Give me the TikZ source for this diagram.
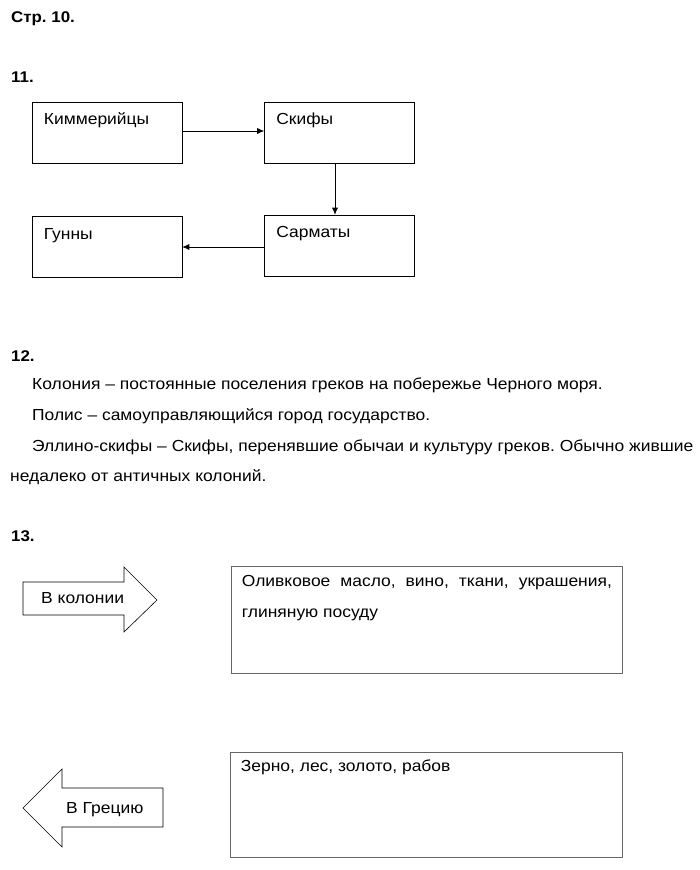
\documentclass[tikz,border=0pt]{standalone}
\usepackage{fontspec}
\setmainfont{Liberation Sans}[FakeStretch=1.09]
\usepackage{tikz}
\usetikzlibrary{
  arrows.meta,
  positioning,
  calc
}
\tikzset{
  chainbox/.style={
    draw, line width=0.6pt, minimum width=150pt, minimum height=61pt, inner sep=0pt
  },
  answerbox/.style={
    draw=black!60, line width=0.6pt, inner sep=0pt
  },
  boxtext/.style={anchor=base west, inner sep=0pt, font=\fontsize{16}{19}\selectfont},
  bodytext/.style={anchor=west, inner sep=0pt, font=\fontsize{16}{19}\selectfont},
  heading/.style={anchor=base west, inner sep=0pt, font=\fontsize{15.5}{18}\selectfont\bfseries},
  chainarrow/.style={-{Latex[length=7pt, width=6pt]}, line width=0.7pt},
  blockarrow/.style={draw, line width=0.6pt, fill=white, line join=miter}
}
\frenchspacing

\begin{document}
\begin{tikzpicture}[x=1pt, y=-1pt]
  \useasboundingbox (0,0) rectangle (700,870);

  % headings
  \node[heading] (page) at (11,22) {Стр. 10.};
  \node[heading] (n11) at (11,82) {11.};
  \node[heading] (n12) at (11,361) {12.};
  \node[heading] (n13) at (11,541) {13.};

  % 11: chain of peoples
  \node[chainbox] (kimm) at (107,133) {};
  \node[chainbox] (skif) at (339.5,133) {};
  \node[chainbox] (sarm) at (339.5,245.5) {};
  \node[chainbox] (gunn) at (107,247) {};
  \node[boxtext] (kimmtxt) at ($(kimm.north west)+(12,22)$) {Киммерийцы};
  \node[boxtext] (skiftxt) at ($(skif.north west)+(12,22)$) {Скифы};
  \node[boxtext] (sarmtxt) at ($(sarm.north west)+(12,23)$) {Сарматы};
  \node[boxtext] (gunntxt) at ($(gunn.north west)+(12,23)$) {Гунны};
  \draw[chainarrow] ([yshift=2pt]kimm.east) -- ([yshift=2pt]skif.west);
  \draw[chainarrow] ([xshift=-4.5pt]skif.south) -- ([xshift=-4.5pt]sarm.north);
  \draw[chainarrow] ([yshift=-1.5pt]sarm.west) -- ([yshift=-1.5pt]sarm.west -| gunn.east);

  % 12: terms
  \node[bodytext] (colony) at (32,385) {Колония – постоянные поселения греков на побережье Черного моря.};
  \node[bodytext] (polis) at (32,416) {Полис – самоуправляющийся город государство.};
  \node[bodytext] (hellen) at (32,447) {Эллино-скифы – Скифы, перенявшие обычаи и культуру греков. Обычно жившие};
  \node[bodytext] (hellen2) at (10,477) {недалеко от античных колоний.};

  % 13: trade
  \draw[blockarrow] (23,582) -- (124,582) -- (124,567) -- (157,600)
    -- (124,632) -- (124,615) -- (23,615) -- cycle;
  \node[bodytext] (tocol) at (41,598) {В колонии};
  \node[answerbox, minimum width=391pt, minimum height=107pt] (export) at (426.5,619.5) {};
  \node[bodytext] (export1) at ($(export.north west)+(11,17)$) {\makebox[370pt][s]{Оливковое масло, вино, ткани, украшения,}};
  \node[bodytext] (export2) at ($(export.north west)+(11,49)$) {глиняную посуду};

  \draw[blockarrow] (163,788) -- (62,788) -- (62,769) -- (23,808)
    -- (62,847) -- (62,827) -- (163,827) -- cycle;
  \node[bodytext] (togreece) at (66,810) {В Грецию};
  \node[answerbox, minimum width=392pt, minimum height=105pt] (import) at (426,804.5) {};
  \node[bodytext] (import1) at ($(import.north west)+(11,16)$) {Зерно, лес, золото, рабов};
\end{tikzpicture}
\end{document}
